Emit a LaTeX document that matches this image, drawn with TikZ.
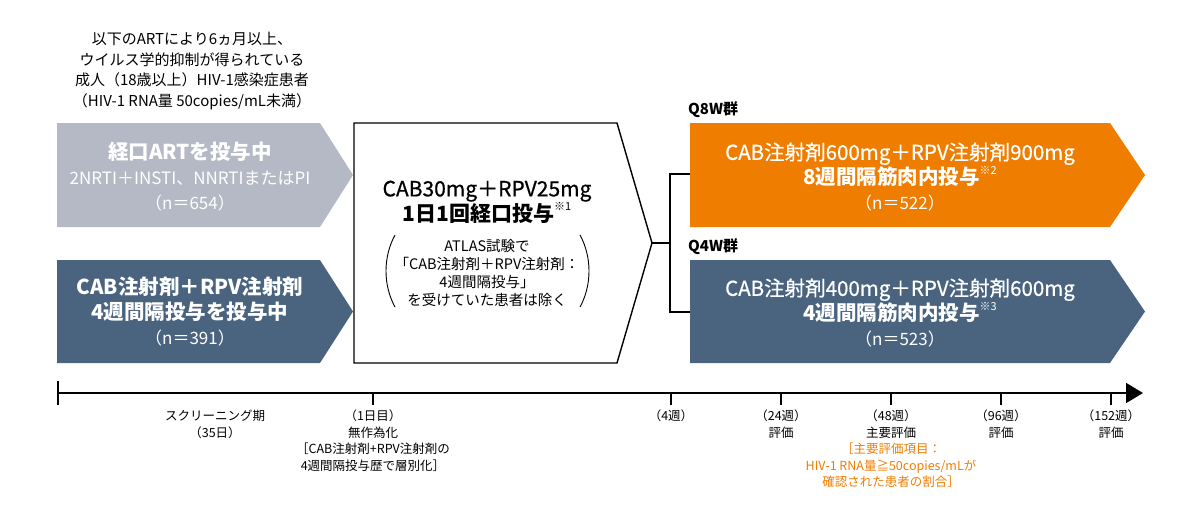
\documentclass[tikz,border=0pt]{standalone}
\usepackage{fontspec}
\setmainfont{Noto Sans CJK JP}
\newfontfamily\mediumfont{Noto Sans CJK JP}[FakeBold=0.6]
\usepackage{tikz}
\usetikzlibrary{arrows.meta}

\definecolor{armgrey}{RGB}{180,185,197}
\definecolor{armnavy}{RGB}{74,100,128}
\definecolor{armorange}{RGB}{239,125,0}

\newcommand{\refmark}[1]{\raisebox{0.5em}{\fontsize{11}{11}\selectfont ※#1}}

\begin{document}
\begin{tikzpicture}
		% We need to define the drawing style
		[x=1pt, y=-1pt,
		greyarm/.style={fill=armgrey, draw=none},
		navyarm/.style={fill=armnavy, draw=none},
		orangearm/.style={fill=armorange, draw=none},
		oralarm/.style={fill=white, draw=black, line width=1.4pt},
		links/.style={black, line width=1.4pt},
		armtext/.style={white, align=center, inner sep=0pt, font=\fontsize{20.5}{25}\selectfont},
		timetext/.style={black, align=center, inner sep=0pt, anchor=north, font=\fontsize{12.5}{16.5}\selectfont},
		axis/.style={black, line width=1.8pt}]
	
		\useasboundingbox (0,0) rectangle (1200,520);
		
		% Who is included
		\node[align=center, inner sep=0pt, font=\fontsize{15}{20.5}\selectfont] (criteria) at (192,71)
			{以下のARTにより6ヵ月以上、\\ウイルス学的抑制が得られている\\成人（18歳以上）HIV-1感染症患者\\（HIV-1 RNA量 50copies/mL未満）};
		
		% First the two groups before the switch
		\coordinate (oralA) at (57,123);
		\coordinate (oralB) at (320,123);
		\coordinate (oralC) at (353,175);
		\coordinate (oralD) at (320,227);
		\coordinate (oralE) at (57,227);
		\filldraw[greyarm] (oralA) -- (oralB) -- (oralC) -- (oralD) -- (oralE) -- cycle;
		\node[armtext] (oraltext) at (190,177)
			{\textbf{経口ARTを投与中}\\{\fontsize{17}{22}\selectfont 2NRTI＋INSTI、NNRTIまたはPI}\\{\fontsize{17}{22}\selectfont（n＝654）}};
		
		\coordinate (longA) at (57,260);
		\coordinate (longB) at (320,260);
		\coordinate (longC) at (353,311.5);
		\coordinate (longD) at (320,363);
		\coordinate (longE) at (57,363);
		\filldraw[navyarm] (longA) -- (longB) -- (longC) -- (longD) -- (longE) -- cycle;
		\node[armtext] (longtext) at (190,312)
			{\textbf{CAB注射剤＋RPV注射剤}\\\textbf{4週間隔投与を投与中}\\{\fontsize{17}{22}\selectfont（n＝391）}};
		
		% The oral lead-in, white with a black edge
		\coordinate (leadA) at (354,123);
		\coordinate (leadB) at (617,123);
		\coordinate (leadtip) at (652,243);
		\coordinate (leadD) at (617,363);
		\coordinate (leadE) at (354,363);
		\filldraw[oralarm] (leadA) -- (leadB) -- (leadtip) -- (leadD) -- (leadE) -- cycle;
		\node[align=center, inner sep=0pt, font=\fontsize{21}{21}\selectfont] (leadtext) at (487,202)
			{{\mediumfont CAB30mg＋RPV25mg}\\\textbf{1日1回経口投与}\refmark{1}};
		\node[align=center, inner sep=0pt, font=\fontsize{14.5}{18}\selectfont] (leadnote) at (487,273)
			{ATLAS試験で\\「CAB注射剤＋RPV注射剤：\\4週間隔投与」\\を受けていた患者は除く};
		% Round brackets round the note
		\draw[black, line width=0.9pt] (395,235) .. controls (383,257) and (383,285) .. (395,307);
		\draw[black, line width=0.9pt] (580,235) .. controls (592,257) and (592,285) .. (580,307);
		
		% Now the two groups after randomisation
		\coordinate (qeightA) at (690,123);
		\coordinate (qeightB) at (1110,123);
		\coordinate (qeightC) at (1145,175);
		\coordinate (qeightD) at (1110,227);
		\coordinate (qeightE) at (690,227);
		\coordinate (qeightin) at (690,174);
		\filldraw[orangearm] (qeightA) -- (qeightB) -- (qeightC) -- (qeightD) -- (qeightE) -- cycle;
		\node[armtext] (qeighttext) at (900,177)
			{{\mediumfont CAB注射剤600mg＋RPV注射剤900mg}\\\textbf{8週間隔筋肉内投与}\refmark{2}\\{\fontsize{17}{22}\selectfont（n＝522）}};
		\node[anchor=west, inner sep=0pt, font=\fontsize{15}{18}\selectfont\bfseries] (qeightlabel) at (688,110) {Q8W群};
		
		\coordinate (qfourA) at (690,260);
		\coordinate (qfourB) at (1110,260);
		\coordinate (qfourC) at (1145,311.5);
		\coordinate (qfourD) at (1110,363);
		\coordinate (qfourE) at (690,363);
		\coordinate (qfourin) at (690,312);
		\filldraw[navyarm] (qfourA) -- (qfourB) -- (qfourC) -- (qfourD) -- (qfourE) -- cycle;
		\node[armtext] (qfourtext) at (900,313)
			{{\mediumfont CAB注射剤400mg＋RPV注射剤600mg}\\\textbf{4週間隔筋肉内投与}\refmark{3}\\{\fontsize{17}{22}\selectfont（n＝523）}};
		\node[anchor=west, inner sep=0pt, font=\fontsize{15}{18}\selectfont\bfseries] (qfourlabel) at (688,247) {Q4W群};
		
		% Split from the lead-in to both groups
		\coordinate (split) at (670,243);
		\draw[links] (leadtip) -- (split);
		\draw[links] (split) |- (qeightin);
		\draw[links] (split) |- (qfourin);
		
		% Finally the time line
		\coordinate (start) at (58,393);
		\coordinate (finish) at (1143,393);
		\coordinate (dayone) at (373,393);
		\coordinate (wkfour) at (671,393);
		\coordinate (wktwentyfour) at (781,393);
		\coordinate (wkfortyeight) at (891,393);
		\coordinate (wkninetysix) at (1001,393);
		\coordinate (wklast) at (1111,393);
		\draw[axis, -{Triangle[length=17pt, width=20pt]}] (start) -- (finish);
		\draw[axis] (58,381) -- (58,405);
		\draw[axis] (dayone) -- ++(0,12);
		\draw[axis] (wkfour) -- ++(0,12);
		\draw[axis] (wktwentyfour) -- ++(0,12);
		\draw[axis] (wkfortyeight) -- ++(0,12);
		\draw[axis] (wkninetysix) -- ++(0,12);
		\draw[axis] (wklast) -- ++(0,12);
		
		\node[timetext] (screening) at (215,410) {スクリーニング期\\（35日）};
		\node[timetext] (random) at (373,410) {（1日目）\\無作為化\\［CAB注射剤+RPV注射剤の\\4週間隔投与歴で層別化］};
		\node[timetext] (fourlabel) at (671,410) {（4週）};
		\node[timetext] (twentyfourlabel) at (781,410) {（24週）\\評価};
		\node[timetext] (fortyeightlabel) at (891,410) {（48週）\\主要評価\\\textcolor{armorange}{［主要評価項目：}\\\textcolor{armorange}{HIV-1 RNA量≧50copies/mLが}\\\textcolor{armorange}{確認された患者の割合］}};
		\node[timetext] (ninetysixlabel) at (1001,410) {（96週）\\評価};
		\node[timetext] (lastlabel) at (1111,410) {（152週）\\評価};
	\end{tikzpicture}
\end{document}
